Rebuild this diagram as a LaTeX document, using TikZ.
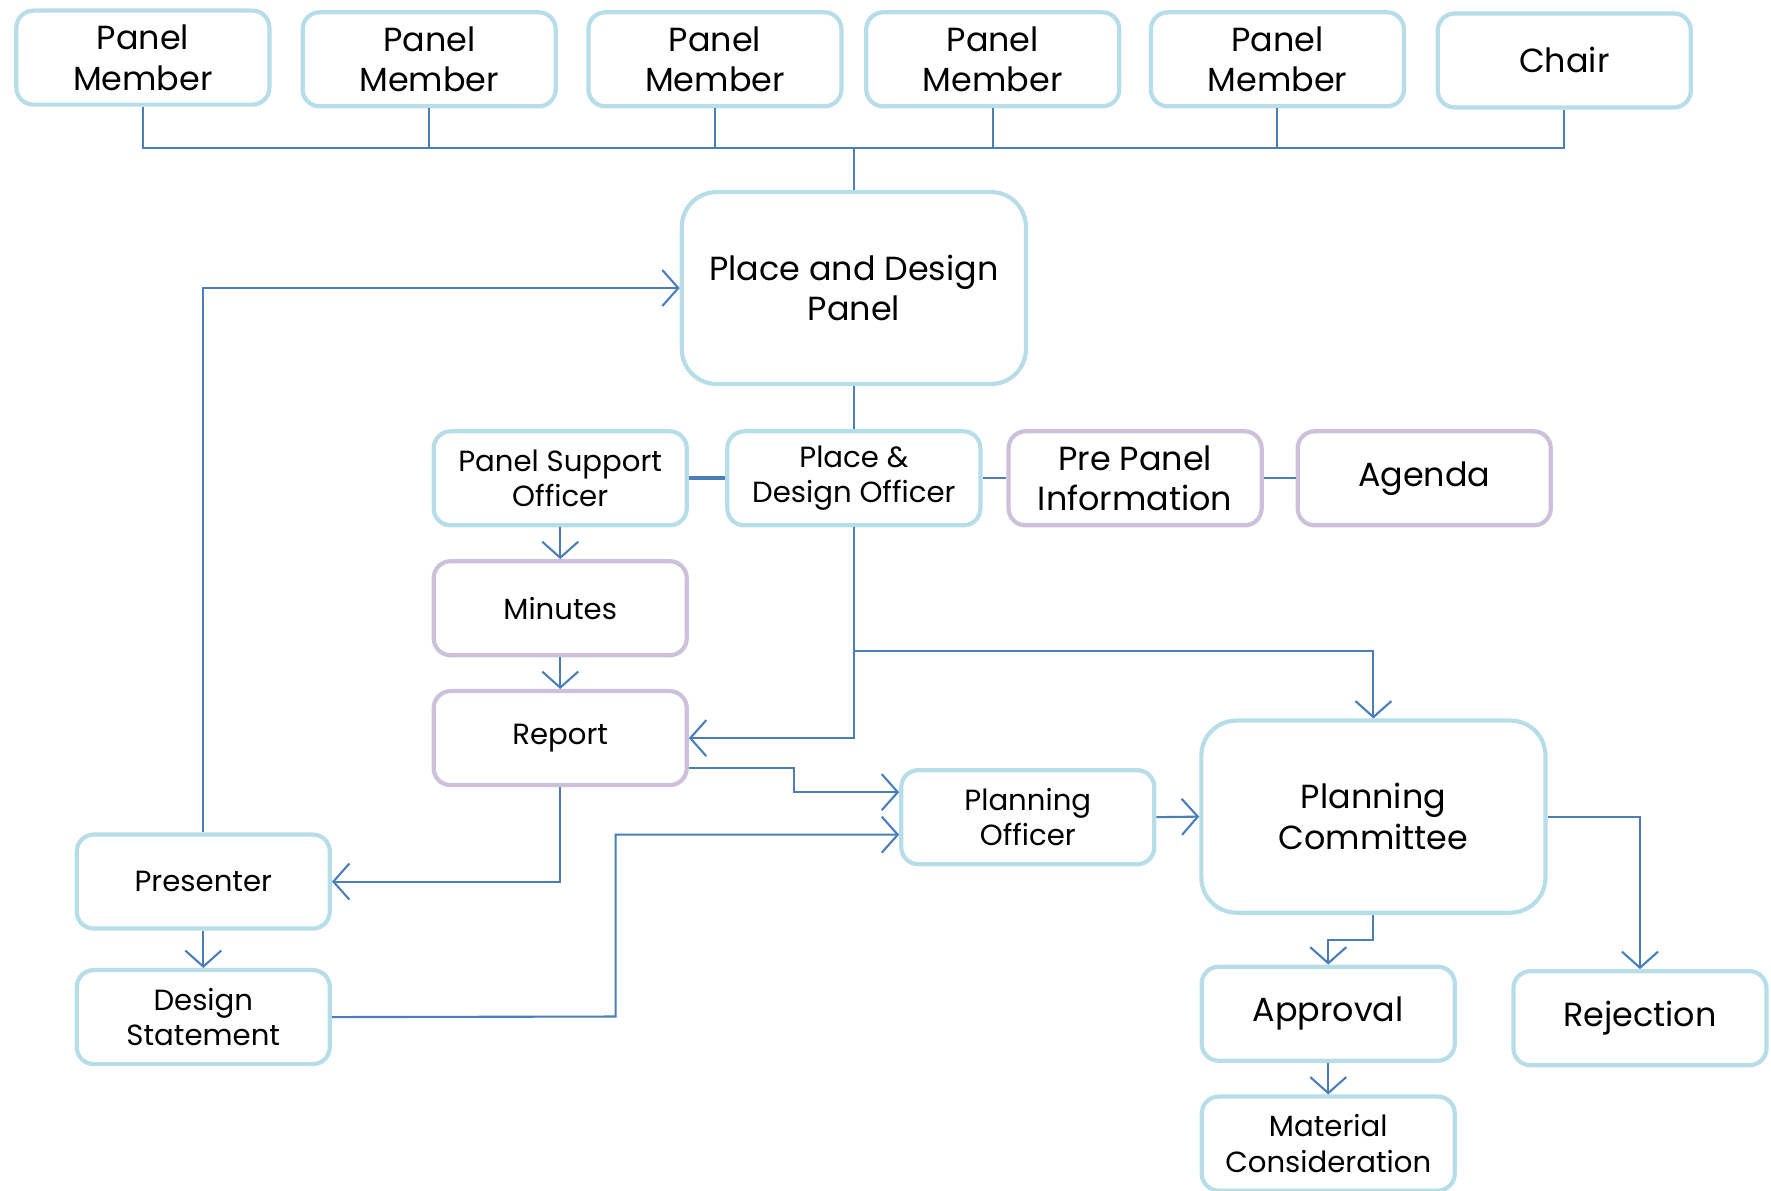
\documentclass[tikz,border=0pt]{standalone}
\usepackage{fontspec}
\setmainfont{Poppins}
\usetikzlibrary{arrows.meta}

\definecolor{boxblue}{HTML}{B7DDE8}
\definecolor{boxpurple}{HTML}{CCC0DA}
\definecolor{lineblue}{HTML}{4A7EBB}

\tikzset{
  card/.style={draw=boxblue, line width=1.2pt, rounded corners=0.17cm,
    minimum width=2.53cm, minimum height=0.94cm, align=center,
    inner sep=1pt, font=\fontsize{8.3}{10}\selectfont},
  cardbig/.style={card, font=\fontsize{9.5}{11.5}\selectfont},
  note/.style={card, draw=boxpurple},
  notebig/.style={cardbig, draw=boxpurple},
  board/.style={cardbig, rounded corners=0.35cm,
    minimum width=3.44cm, minimum height=1.92cm},
  link/.style={draw=lineblue, line width=0.6pt},
  flow/.style={link, -{Straight Barb[length=1.6mm,width=3.6mm]}}
}

\begin{document}
\begin{tikzpicture}[x=0.011295cm, y=-0.011295cm]
        \useasboundingbox (0,0) rectangle (1568,1054);

        % panel members and chair
        \node[cardbig] (pm1) at (126.5,51) {Panel\\Member};
        \node[cardbig] (pm2) at (380,52.5) {Panel\\Member};
        \node[cardbig] (pm3) at (633,52.5) {Panel\\Member};
        \node[cardbig] (pm4) at (879,52.5) {Panel\\Member};
        \node[cardbig] (pm5) at (1131,52.5) {Panel\\Member};
        \node[cardbig] (chair) at (1385,53.5) {Chair};

        \node[board] (panel) at (756,255) {Place and Design\\Panel};

        % officers row
        \node[card] (pso) at (496,423.5) {Panel Support\\Officer};
        \node[card] (pdo) at (756,423.5) {Place \&\\Design Officer};
        \node[notebig] (pre) at (1005,423.5) {Pre Panel\\Information};
        \node[notebig] (agenda) at (1261,423.5) {Agenda};

        \node[note] (minutes) at (496,538.5) {Minutes};
        \node[note] (report) at (496,653.5) {Report};

        \node[card] (po) at (910,723.5) {Planning\\Officer};
        \node[board] (pc) at (1216,723) {Planning\\Committee};

        \node[card] (presenter) at (180,780.5) {Presenter};
        \node[card] (ds) at (180,900.5) {Design\\Statement};

        \node[cardbig] (appr) at (1176,897.5) {Approval};
        \node[cardbig] (rej) at (1452,901.5) {Rejection};
        \node[card] (mat) at (1176,1012.5) {Material\\Consideration};

        % bus to the panel
        \coordinate (bus) at (756,131);
        \foreach \m in {pm1,pm2,pm3,pm4,pm5,chair}
          \draw[link] (\m.south) |- (bus);
        \draw[link] (bus) -- (panel.north);

        \draw[link] (panel.south) -- (pdo.north);
        \draw[link, line width=1.2pt] (pso.east) -- (pdo.west);
        \draw[link] (pdo.east) -- (pre.west);
        \draw[link] (pre.east) -- (agenda.west);

        \draw[flow] (pso.south) -- (minutes.north);
        \draw[flow] (minutes.south) -- (report.north);
        \draw[flow] (pdo.south) |- (report.east);
        \coordinate (split) at (756,576);
        \draw[flow] (split) -| (pc.north);

        \draw[flow] ([yshift=-0.3cm]report.east) -- ++(93,0) |- ([yshift=0.25cm]po.west);
        \draw[flow] (report.south) |- (presenter.east);
        \draw[flow] (presenter.north) |- (panel.west);
        \draw[flow] (presenter.south) -- (ds.north);
        \draw[flow] (ds.east) -- (545,900) |- ([yshift=-0.175cm]po.west);

        \draw[flow] (po.east) -- (pc.west);
        \draw[flow] (pc.east) -| (rej.north);
        \draw[flow] (pc.south) -- ++(0,22) -| (appr.north);
        \draw[flow] (appr.south) -- (mat.north);
\end{tikzpicture}
\end{document}
